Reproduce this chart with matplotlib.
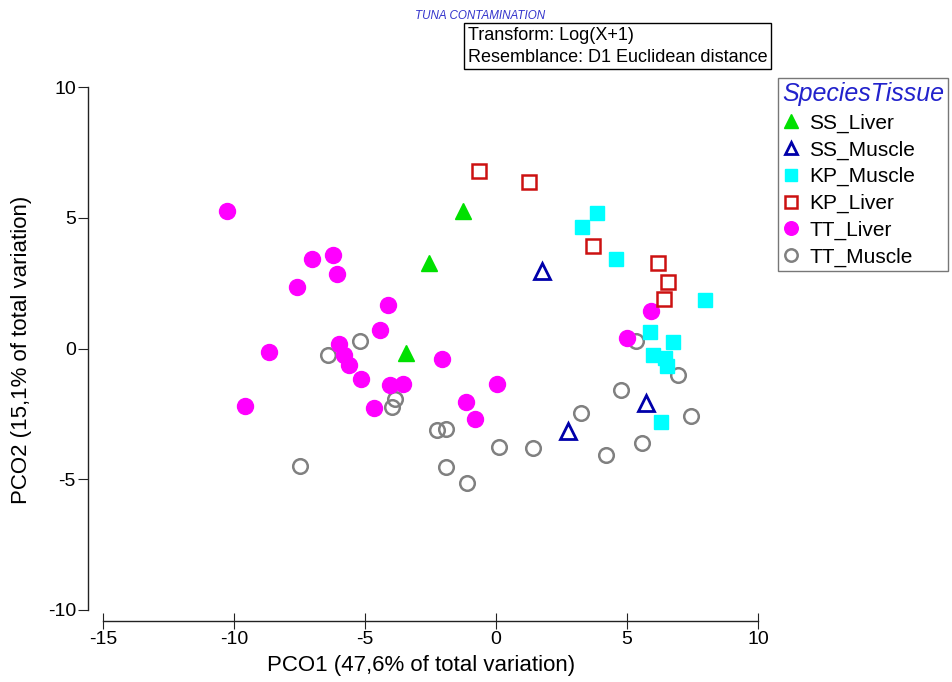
import numpy as np
import matplotlib.pyplot as plt

plt.rcParams['font.family'] = ['Liberation Sans', 'DejaVu Sans']
plt.rcParams['axes.unicode_minus'] = False

# PCO scores
ss_liver_x = [-1.26, -2.56, -3.44]
ss_liver_y = [5.27, 3.28, -0.18]

ss_muscle_x = [1.76, 2.75, 5.73]
ss_muscle_y = [2.98, -3.17, -2.10]

kp_muscle_x = [3.85, 3.28, 4.58, 7.98, 5.86, 6.76, 5.99, 6.45, 6.53, 6.30]
kp_muscle_y = [5.19, 4.66, 3.44, 1.87, 0.65, 0.23, -0.25, -0.36, -0.66, -2.82]

kp_liver_x = [-0.65, 1.26, 3.70, 6.18, 6.56, 6.41]
kp_liver_y = [6.79, 6.37, 3.93, 3.28, 2.56, 1.91]

tt_liver_x = [-10.27, -7.02, -6.22, -6.07, -7.60, -4.12, -4.43, -5.99, -5.80, -8.66, -2.06,
              -5.61, -5.15, -4.05, -3.55, -4.66, -9.58, -1.15, -0.80, 0.04, 5.00, 5.92]
tt_liver_y = [5.27, 3.44, 3.59, 2.86, 2.37, 1.68, 0.69, 0.19, -0.23, -0.15, -0.42,
              -0.65, -1.18, -1.41, -1.34, -2.29, -2.18, -2.06, -2.71, -1.37, 0.42, 1.45]

tt_muscle_x = [-5.19, -6.41, -3.85, -3.97, -2.25, -1.91, -7.48, -1.91, -1.11, 0.11, 1.41,
               3.24, 4.77, 4.20, 5.57, 5.34, 6.95, 7.44]
tt_muscle_y = [0.27, -0.23, -1.95, -2.25, -3.13, -3.09, -4.50, -4.54, -5.15, -3.78, -3.82,
               -2.48, -1.60, -4.08, -3.63, 0.27, -1.03, -2.60]

xticks = [-15, -10, -5, 0, 5, 10]
yticks = [-10, -5, 0, 5, 10]

fig = plt.figure(figsize=(9.52, 6.82), dpi=100)
ax = fig.add_axes([103/952, 1 - 610/682, (758 - 103)/952, (610 - 87)/682])

ax.plot(tt_muscle_x, tt_muscle_y, 'o', ls='none', mfc='none', mec='#808080', ms=10.5, mew=1.8, label='TT_Muscle')
ax.plot(tt_liver_x, tt_liver_y, 'o', ls='none', color='#ff00ff', ms=11.5, label='TT_Liver')
ax.plot(kp_muscle_x, kp_muscle_y, 's', ls='none', color='#00ffff', ms=10.5, label='KP_Muscle')
ax.plot(kp_liver_x, kp_liver_y, 's', ls='none', mfc='none', mec='#cc1111', ms=9.5, mew=1.8, label='KP_Liver')
ax.plot(ss_liver_x, ss_liver_y, '^', ls='none', color='#00e000', ms=12, label='SS_Liver')
ax.plot(ss_muscle_x, ss_muscle_y, '^', ls='none', mfc='none', mec='#0000aa', ms=11, mew=2, label='SS_Muscle')

ax.set_xlim(-15, 10)
ax.set_ylim(-10, 10)
ax.set_xticks(xticks)
ax.set_yticks(yticks)
ax.spines['top'].set_visible(False)
ax.spines['right'].set_visible(False)
ax.spines['left'].set_position(('outward', 10.5))
ax.spines['bottom'].set_position(('outward', 8))
ax.spines['left'].set_bounds(-10, 10)
ax.spines['bottom'].set_bounds(-15, 10)
for s in ['left', 'bottom']:
    ax.spines[s].set_linewidth(1)
    ax.spines[s].set_color('#222222')
ax.tick_params(axis='y', direction='out', length=7, labelsize=14, pad=2, color='#222222')
ax.tick_params(axis='x', direction='inout', length=12, labelsize=14, pad=1, color='#222222')

fig.text(421/952, 1 - 665/682, 'PCO1 (47,6% of total variation)', fontsize=16, ha='center', va='center')
fig.text(22/952, 1 - 350/682, 'PCO2 (15,1% of total variation)', fontsize=16, ha='center', va='center', rotation=90)

fig.text(415/952, 1 - 16/682, 'TUNA CONTAMINATION', fontsize=8.4, style='italic', color='#3333cc', ha='left', va='center')
fig.text(468/952, 1 - 27/682, 'Transform: Log(X+1)\nResemblance: D1 Euclidean distance', fontsize=13,
         ha='left', va='top', linespacing=1.35,
         bbox=dict(boxstyle='square,pad=0.2', fc='white', ec='black', lw=1))

h, l = ax.get_legend_handles_labels()
order = ['SS_Liver', 'SS_Muscle', 'KP_Muscle', 'KP_Liver', 'TT_Liver', 'TT_Muscle']
hd = dict(zip(l, h))
leg = fig.legend([hd[k] for k in order], order, loc='upper left', bbox_to_anchor=(778/952, 1 - 78/682),
                 fontsize=15, title='SpeciesTissue', title_fontproperties={'size': 18, 'style': 'italic'},
                 frameon=True, fancybox=False, edgecolor='#555555', borderpad=0.2, handlelength=0.8,
                 handletextpad=0.5, labelspacing=0.36, borderaxespad=0, markerscale=0.85, alignment='left')
leg.get_title().set_color('#2222cc')
leg.get_frame().set_linewidth(1)

fig.savefig('out.png', dpi=100)
